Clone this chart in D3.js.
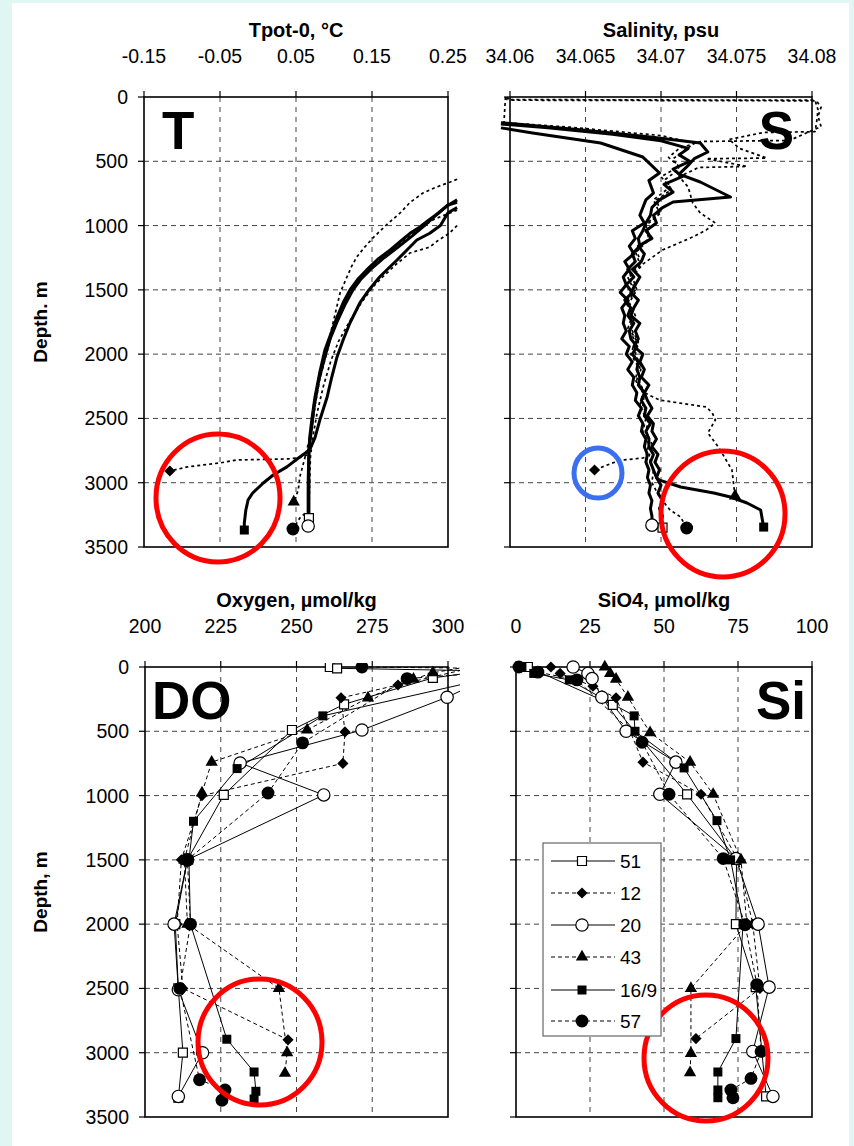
<!DOCTYPE html>
<html lang="en">
<head>
<meta charset="utf-8">
<title>T, S, DO, Si profiles</title>
<script src="https://cdn.jsdelivr.net/npm/d3@7"></script>
<style>
  body { margin: 0; background: #e0f6f3; }
  text { font-family: "Liberation Sans", Arial, sans-serif; fill: #000; }
</style>
</head>
<body>
<script>
// stations, in legend order
var stations = ["51", "12", "20", "43", "16/9", "57"];
var depthTicks = [0, 500, 1000, 1500, 2000, 2500, 3000, 3500];
var tTicks = [-0.15, -0.05, 0.05, 0.15, 0.25];
var sTicks = [34.06, 34.065, 34.07, 34.075, 34.08];
var oTicks = [200, 225, 250, 275, 300];
var siTicks = [0, 25, 50, 75, 100];

// potential temperature profiles [depth, T]
var t51 = [[820,0.262],[840,0.25],[900,0.238],[960,0.224],[1011,0.213],[1060,0.2],[1120,0.188],[1190,0.174],[1260,0.158],[1345,0.143],[1420,0.131],[1500,0.121],[1600,0.112],[1711,0.104],[1840,0.096],[1968,0.088],[2150,0.081],[2333,0.075],[2500,0.071],[2650,0.068],[2750,0.067],[2900,0.067],[3050,0.067],[3200,0.067],[3275,0.067]];
var t12 = [[880,0.262],[950,0.232],[1020,0.214],[1100,0.196],[1200,0.172],[1300,0.152],[1400,0.137],[1500,0.124],[1650,0.11],[1800,0.099],[2000,0.09],[2200,0.081],[2400,0.075],[2600,0.07],[2780,0.065],[2800,0.06],[2815,0.04],[2823,-0.028],[2846,-0.05],[2877,-0.093],[2909,-0.116]];
var t20 = [[800,0.262],[850,0.248],[910,0.236],[1000,0.219],[1080,0.203],[1160,0.186],[1250,0.166],[1330,0.15],[1420,0.135],[1500,0.125],[1620,0.114],[1750,0.104],[1880,0.095],[2000,0.089],[2200,0.08],[2400,0.074],[2600,0.07],[2750,0.067],[3000,0.066],[3200,0.066],[3337,0.066]];
var t43 = [[640,0.262],[661,0.253],[700,0.235],[747,0.217],[820,0.2],[902,0.187],[1000,0.168],[1097,0.151],[1170,0.14],[1244,0.13],[1320,0.123],[1400,0.117],[1524,0.108],[1650,0.103],[1800,0.097],[2000,0.089],[2200,0.081],[2400,0.075],[2600,0.07],[2800,0.062],[2955,0.055],[3057,0.053],[3150,0.047]];
var t169 = [[860,0.262],[900,0.25],[1000,0.24],[1060,0.226],[1112,0.209],[1190,0.196],[1268,0.183],[1330,0.172],[1400,0.16],[1500,0.146],[1602,0.134],[1758,0.121],[1890,0.112],[2022,0.104],[2180,0.097],[2333,0.091],[2500,0.082],[2650,0.075],[2745,0.068],[2800,0.055],[2877,0.038],[2940,0.02],[3002,0.007],[3080,-0.007],[3134,-0.013],[3212,-0.016],[3313,-0.018],[3368,-0.018]];
var t57 = [[1000,0.262],[1058,0.252],[1120,0.236],[1167,0.226],[1213,0.2],[1300,0.182],[1400,0.164],[1478,0.151],[1600,0.136],[1750,0.12],[1900,0.106],[2050,0.096],[2250,0.086],[2450,0.078],[2650,0.072],[2800,0.069],[3000,0.068],[3212,0.067],[3275,0.055],[3360,0.046]];

// salinity profiles [depth, S]
var s51 = [[200,34.0594],[257,34.0648],[311,34.0693],[358,34.0726],[428,34.0731],[480,34.0722],[544,34.0717],[600,34.0712],[661,34.0726],[778,34.0746],[817,34.0708],[860,34.0701],[920,34.0695],[980,34.0697],[1040,34.069],[1100,34.0694],[1160,34.0685],[1220,34.0689],[1280,34.0687],[1340,34.0681],[1400,34.0686],[1460,34.0683],[1520,34.068],[1580,34.0685],[1640,34.0682],[1700,34.068],[1760,34.0686],[1820,34.0683],[1880,34.0685],[1940,34.0682],[2000,34.0688],[2060,34.0686],[2120,34.0689],[2180,34.0687],[2240,34.0692],[2300,34.0689],[2360,34.0691],[2420,34.0694],[2480,34.0691],[2540,34.0695],[2600,34.0694],[2660,34.0697],[2720,34.0694],[2780,34.0698],[2840,34.0696],[2900,34.0699],[2960,34.0697],[3020,34.07],[3080,34.0698],[3140,34.0701],[3200,34.0699],[3260,34.0701],[3300,34.07],[3350,34.0701]];
var s12 = [[0,34.0598],[25,34.06],[30,34.0803],[80,34.0806],[150,34.0804],[230,34.0806],[338,34.0785],[346,34.0726],[400,34.0712],[470,34.0705],[540,34.0712],[620,34.07],[700,34.0706],[800,34.0695],[900,34.0699],[1000,34.0689],[1100,34.0692],[1200,34.0683],[1300,34.0686],[1400,34.0678],[1500,34.0682],[1600,34.0677],[1700,34.0681],[1800,34.0678],[1900,34.0683],[2000,34.068],[2100,34.0685],[2200,34.0683],[2300,34.0688],[2400,34.0686],[2500,34.069],[2600,34.0688],[2700,34.0692],[2800,34.069],[2808,34.0688],[2823,34.0675],[2846,34.0668],[2901,34.0656]];
var s20 = [[240,34.0594],[280,34.0615],[358,34.066],[467,34.0688],[591,34.0699],[650,34.0692],[747,34.0695],[800,34.069],[860,34.0688],[920,34.0686],[980,34.0689],[1040,34.0681],[1100,34.0683],[1160,34.0679],[1220,34.0682],[1280,34.0676],[1340,34.0679],[1400,34.0675],[1460,34.0677],[1520,34.0673],[1580,34.0678],[1640,34.0674],[1700,34.0676],[1760,34.0675],[1820,34.0677],[1880,34.0674],[1940,34.0679],[2000,34.0677],[2060,34.0681],[2120,34.0678],[2180,34.0682],[2240,34.0681],[2300,34.0684],[2360,34.0683],[2420,34.0687],[2480,34.0685],[2540,34.0688],[2600,34.0687],[2660,34.069],[2720,34.0689],[2780,34.0691],[2840,34.069],[2900,34.0692],[2960,34.0691],[3020,34.0693],[3080,34.0692],[3140,34.0694],[3200,34.0693],[3260,34.0694],[3330,34.0694]];
var s43 = [[0,34.0597],[200,34.0596],[235,34.064],[300,34.07],[360,34.0722],[420,34.0715],[480,34.0708],[560,34.0712],[640,34.0703],[720,34.0707],[800,34.0697],[900,34.07],[1000,34.069],[1100,34.0693],[1200,34.0684],[1300,34.0687],[1400,34.0679],[1500,34.0683],[1600,34.0678],[1700,34.0682],[1800,34.0679],[1900,34.0684],[2000,34.0682],[2100,34.0686],[2200,34.0684],[2300,34.0689],[2357,34.0699],[2411,34.073],[2458,34.0734],[2512,34.0736],[2613,34.0731],[2722,34.0738],[2901,34.0747],[3103,34.0749]];
var s169 = [[210,34.0594],[240,34.0625],[290,34.0668],[340,34.07],[400,34.0718],[450,34.0712],[500,34.0719],[560,34.0708],[620,34.0714],[680,34.0702],[740,34.0708],[800,34.0699],[860,34.0694],[920,34.0693],[980,34.069],[1040,34.0688],[1100,34.0685],[1160,34.0686],[1220,34.0681],[1280,34.0683],[1340,34.0678],[1400,34.0682],[1460,34.0677],[1520,34.0681],[1580,34.0676],[1640,34.068],[1700,34.0678],[1760,34.0682],[1820,34.0679],[1880,34.068],[1940,34.0684],[2000,34.0681],[2060,34.0685],[2120,34.0684],[2180,34.0686],[2240,34.0685],[2300,34.0689],[2360,34.0687],[2420,34.069],[2480,34.0689],[2540,34.0693],[2600,34.069],[2660,34.0692],[2720,34.0692],[2780,34.0695],[2840,34.0693],[2900,34.0695],[2960,34.0697],[2980,34.0699],[3033,34.0713],[3080,34.0735],[3111,34.0746],[3158,34.0757],[3212,34.0766],[3280,34.0767],[3345,34.0768]];
var s57 = [[0,34.0598],[20,34.0598],[25,34.0802],[100,34.0804],[200,34.0803],[270,34.0802],[276,34.0768],[330,34.0745],[400,34.0752],[475,34.077],[480,34.073],[540,34.0757],[548,34.0725],[620,34.0712],[700,34.0718],[824,34.0721],[902,34.0726],[980,34.0736],[1034,34.073],[1089,34.0721],[1190,34.0701],[1300,34.0688],[1400,34.0681],[1500,34.0684],[1600,34.0679],[1700,34.0683],[1800,34.068],[1900,34.0685],[2000,34.0683],[2100,34.0687],[2200,34.0685],[2300,34.0689],[2400,34.0688],[2500,34.0692],[2600,34.069],[2700,34.0694],[2800,34.0692],[2900,34.0695],[3000,34.0694],[3111,34.0699],[3212,34.0706],[3267,34.0713],[3352,34.0717]];

// bottle oxygen [depth, O2]
var o51 = [[0,261],[10,263.4],[30,312],[85,295],[290,265.7],[490,248.5],[995,226],[1500,214],[2000,210],[2500,211],[3000,212.5],[3350,211]];
var o12 = [[0,309],[140,283.5],[240,264.7],[505,266],[750,265.3],[1000,218.8],[1500,212],[2000,210.6],[2500,212.5],[2900,247.2]];
var o20 = [[0,321],[235,299.7],[490,271.6],[747,231.4],[995,259],[1500,214],[2000,209.6],[2510,211],[3000,219],[3340,211]];
var o43 = [[0,306],[45,295],[95,288.6],[240,273.6],[490,253.5],[740,222],[980,218.8],[1500,213],[2000,214],[2500,244.2],[3000,246.9],[3160,246.2]];
var o169 = [[0,330],[380,258.7],[790,230.4],[1200,216],[1500,214.5],[2000,215],[2895,227],[3150,236],[3300,236.6],[3360,236]];
var o57 = [[0,271.6],[15,330],[90,286.5],[590,252],[980,240.6],[1500,214],[2000,215],[2500,211.5],[3210,218],[3290,226.4],[3370,225.4]];

// bottle silicate [depth, SiO4]
var si51 = [[0,4],[295,32.7],[990,57.8],[1500,74.5],[2000,74.3],[2490,81],[3340,84.5]];
var si12 = [[0,11.8],[50,14.9],[150,26],[240,33.8],[740,42.9],[990,62.5],[1500,75],[2000,80],[2500,82.4],[2890,60.8]];
var si20 = [[0,19.3],[50,24.3],[90,25.7],[235,29],[500,37.2],[740,54],[990,48.6],[1490,74.3],[2000,81.8],[2490,85.5],[2990,80],[3340,86.8]];
var si43 = [[0,30],[50,31.8],[95,33.8],[235,37.8],[510,45.3],[740,58.8],[990,66.6],[1500,76],[2000,78],[2500,59.1],[3005,59.1],[3155,58.8]];
var si169 = [[0,2],[50,6],[100,18],[380,39.9],[500,40.2],[785,56.8],[1195,67.9],[1500,72.5],[2000,76.7],[2890,74.3],[3150,68.2],[3290,68.2],[3350,68.2]];
var si57 = [[0,1],[40,7.4],[100,20.6],[585,42.6],[990,51.7],[1490,70],[2005,77.4],[2470,81.4],[2990,82.8],[3200,79.4],[3290,72.6],[3350,73.3]];

var dashed = { "51": false, "12": true, "20": false, "43": true, "16/9": false, "57": true };
var markers = { "51": "sqOpen", "12": "diamond", "20": "circOpen", "43": "tri", "16/9": "sq", "57": "circ" };

var W = 854, H = 1146;
var svg = d3.select("body").append("svg").attr("width", W).attr("height", H);
svg.append("rect").attr("width", W).attr("height", H).attr("fill", "#e0f6f3");
svg.append("rect").attr("x", 12).attr("y", 3).attr("width", 837).attr("height", H - 3).attr("fill", "#fff");

function drawMarker(g, type, cx, cy) {
  var m;
  if (type == "sqOpen" || type == "sq") {
    m = g.append("path").attr("d", d3.symbol(d3.symbolSquare, 81)());
  } else if (type == "diamond") {
    m = g.append("path").attr("d", d3.symbol(d3.symbolSquare, 62)());
  } else if (type == "tri") {
    m = g.append("path").attr("d", d3.symbol(d3.symbolTriangle, 66)());
  } else {
    m = g.append("path").attr("d", d3.symbol(d3.symbolCircle, type == "circ" ? 130 : 120)());
  }
  var tr = "translate(" + cx + "," + cy + ")";
  if (type == "diamond") tr += " rotate(45)";
  m.attr("transform", tr);
  if (type == "sqOpen" || type == "circOpen") {
    m.attr("fill", "#fff").attr("stroke", "#000").attr("stroke-width", 1.2);
  } else {
    m.attr("fill", "#000");
  }
}

function panel(p) {
  var x = d3.scaleLinear().domain(p.domain).range([p.x0, p.x1]);
  var y = d3.scaleLinear().domain([0, 3500]).range([p.y0, p.y1]);
  var g = svg.append("g");

  // grid
  g.selectAll(".vg").data(p.ticks.slice(1, -1)).enter().append("line")
    .attr("x1", d => x(d)).attr("x2", d => x(d)).attr("y1", p.y0).attr("y2", p.y1)
    .attr("stroke", "#444").attr("stroke-width", 1).attr("stroke-dasharray", "5,5");
  g.selectAll(".hg").data(depthTicks.slice(1, -1)).enter().append("line")
    .attr("x1", p.x0).attr("x2", p.x1).attr("y1", d => y(d)).attr("y2", d => y(d))
    .attr("stroke", "#444").attr("stroke-width", 1).attr("stroke-dasharray", "5,4");

  // tick marks
  g.selectAll(".xt").data(p.ticks).enter().append("line")
    .attr("x1", d => x(d)).attr("x2", d => x(d)).attr("y1", p.y0 - 6).attr("y2", p.y0)
    .attr("stroke", "#000").attr("stroke-width", 1.2);
  g.selectAll(".yt").data(depthTicks).enter().append("line")
    .attr("x1", p.x0 - 6).attr("x2", p.x0).attr("y1", d => y(d)).attr("y2", d => y(d))
    .attr("stroke", "#000").attr("stroke-width", 1.2);

  g.append("rect").attr("x", p.x0).attr("y", p.y0)
    .attr("width", p.x1 - p.x0).attr("height", p.y1 - p.y0)
    .attr("fill", "none").attr("stroke", "#000").attr("stroke-width", 1.6);

  // labels
  g.selectAll(".xl").data(p.ticks).enter().append("text")
    .attr("x", d => x(d)).attr("y", p.y0 - 34).attr("text-anchor", "middle")
    .attr("font-size", 19.5).text((d, i) => p.labels[i]);
  if (p.yLabels) {
    g.selectAll(".yl").data(depthTicks).enter().append("text")
      .attr("x", p.x0 - 16).attr("y", d => y(d) + 7).attr("text-anchor", "end")
      .attr("font-size", 19.5).text(d => d);
    g.append("text").attr("transform", "translate(47," + ((p.y0 + p.y1) / 2) + ") rotate(-90)")
      .attr("text-anchor", "middle").attr("font-size", 19).attr("font-weight", "bold")
      .text(p.yTitle);
  }
  g.append("text").attr("x", (p.x0 + p.x1) / 2).attr("y", p.y0 - 60)
    .attr("text-anchor", "middle").attr("font-size", 20).attr("font-weight", "bold").text(p.title);
  g.append("text").attr("x", p.letterX).attr("y", p.y0 + 52)
    .attr("text-anchor", p.letterAnchor).attr("font-size", 53).attr("font-weight", "bold").text(p.letter);

  // data
  var dg = g.append("g");
  if (p.clip) {
    svg.append("clipPath").attr("id", p.clip).append("rect")
      .attr("x", p.x0 - 20).attr("y", p.y0 - 4).attr("width", p.x1 - p.x0 + 32).attr("height", p.y1 - p.y0 + 20);
    dg.attr("clip-path", "url(#" + p.clip + ")");
  }
  var line = d3.line().x(d => x(d[1])).y(d => y(d[0]));
  stations.forEach(function (st, i) {
    var path = dg.append("path").attr("d", line(p.series[i])).attr("fill", "none").attr("stroke", "#000")
      .attr("stroke-linejoin", "round");
    if (p.profile) {
      path.attr("stroke-width", dashed[st] ? 1.7 : 3);
      if (dashed[st]) path.attr("stroke-dasharray", "3,3");
    } else {
      path.attr("stroke-width", 1);
      if (dashed[st]) path.attr("stroke-dasharray", "4,3");
    }
  });
  stations.forEach(function (st, i) {
    var pts = p.profile ? [p.series[i][p.series[i].length - 1]] : p.series[i];
    pts.forEach(function (d) { drawMarker(dg, markers[st], x(d[1]), y(d[0])); });
  });

  (p.rings || []).forEach(function (r) {
    g.append("ellipse").attr("cx", r.cx).attr("cy", r.cy).attr("rx", r.rx).attr("ry", r.ry)
      .attr("fill", "none").attr("stroke", r.color).attr("stroke-width", 5);
  });
  return g;
}

panel({ x0: 144, x1: 448, y0: 97, y1: 547, domain: [-0.15, 0.25], ticks: tTicks,
  labels: ["-0.15", "-0.05", "0.05", "0.15", "0.25"], title: "Tpot-0, °C", yLabels: true, yTitle: "Depth. m",
  letter: "T", letterX: 162, letterAnchor: "start", profile: true,
  series: [t51, t12, t20, t43, t169, t57],
  rings: [{ cx: 218, cy: 498, rx: 62, ry: 64, color: "#ff0000" }] });

panel({ x0: 510, x1: 812, y0: 97, y1: 547, domain: [34.06, 34.08], ticks: sTicks,
  labels: ["34.06", "34.065", "34.07", "34.075", "34.08"], title: "Salinity, psu", yLabels: false,
  letter: "S", letterX: 794, letterAnchor: "end", profile: true,
  series: [s51, s12, s20, s43, s169, s57],
  rings: [{ cx: 723, cy: 514, rx: 62, ry: 63, color: "#ff0000" }, { cx: 598, cy: 473, rx: 24, ry: 25, color: "#3b6ff0" }] });

panel({ x0: 145, x1: 448, y0: 667, y1: 1117, domain: [200, 300], ticks: oTicks,
  labels: ["200", "225", "250", "275", "300"], title: "Oxygen, µmol/kg", yLabels: true, yTitle: "Depth, m",
  letter: "DO", letterX: 152, letterAnchor: "start", clip: "clipO",
  series: [o51, o12, o20, o43, o169, o57],
  rings: [{ cx: 260, cy: 1042, rx: 62, ry: 63, color: "#ff0000" }] });

panel({ x0: 516, x1: 812, y0: 667, y1: 1117, domain: [0, 100], ticks: siTicks,
  labels: ["0", "25", "50", "75", "100"], title: "SiO4, µmol/kg", yLabels: false,
  letter: "Si", letterX: 806, letterAnchor: "end",
  series: [si51, si12, si20, si43, si169, si57],
  rings: [{ cx: 706, cy: 1058, rx: 62, ry: 63, color: "#ff0000" }] });

// legend
var lg = svg.append("g");
lg.append("rect").attr("x", 543).attr("y", 843).attr("width", 118).attr("height", 193)
  .attr("fill", "#fff").attr("stroke", "#666").attr("stroke-width", 1.2);
var legendY = [861, 893, 925, 957, 990, 1021];
stations.forEach(function (st, i) {
  var ly = legendY[i];
  var l = lg.append("line").attr("x1", 551).attr("x2", 615).attr("y1", ly).attr("y2", ly)
    .attr("stroke", "#000").attr("stroke-width", 1);
  if (dashed[st]) l.attr("stroke-dasharray", "4,3");
  drawMarker(lg, markers[st], 582, ly);
  lg.append("text").attr("x", 620).attr("y", ly + 7).attr("font-size", 19).text(st);
});
</script>
</body>
</html>
